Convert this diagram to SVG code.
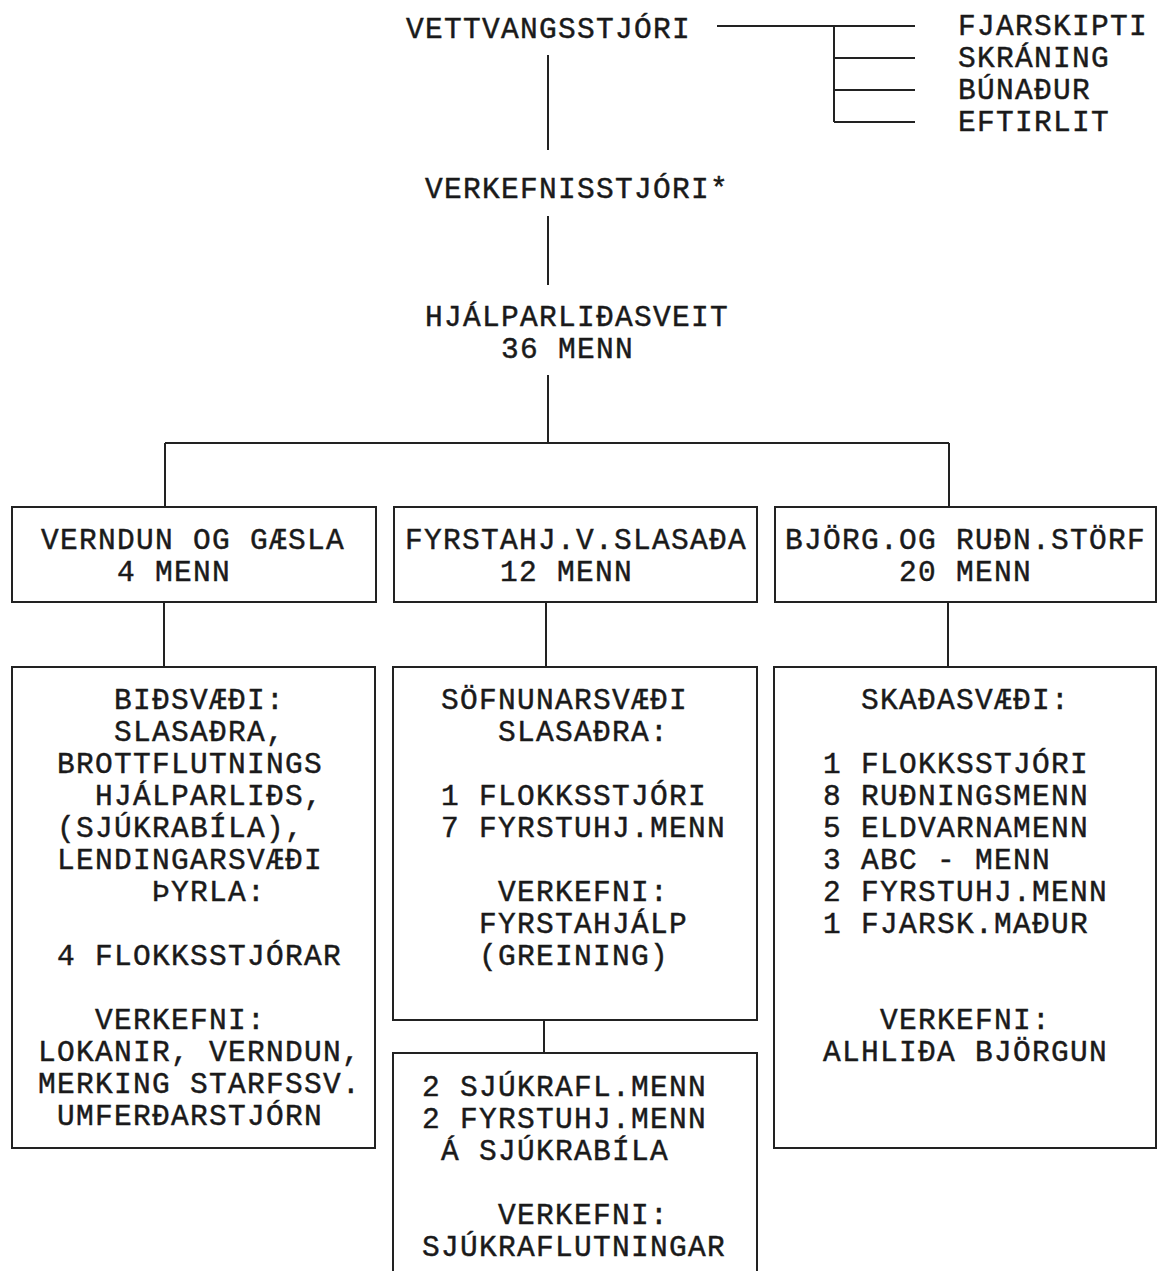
<svg xmlns="http://www.w3.org/2000/svg" width="1157" height="1271" viewBox="0 0 1157 1271">
<style>
text{font-family:"Liberation Mono","DejaVu Sans Mono",monospace;font-size:29.5px;letter-spacing:1.3px;fill:#1a1a1a;stroke:#1a1a1a;stroke-width:0.45px}
.box{fill:none;stroke:#222;stroke-width:2}
.con{fill:none;stroke:#222;stroke-width:2}
</style>
<rect x="0" y="0" width="1157" height="1271" fill="#fff"/>
<g id="connectors" class="con">
<path d="M717 26H915M834 26V122M834 58H915M834 90H915M834 122H915"/>
<path d="M548 55V150M548 216V285M548 375V443M165 443H949M165 443V507M949 443V507"/>
<path d="M164 602V667M546 602V667M948 602V667M544 1020V1053"/>
</g>
<g id="vettvangsstjori"><text x="406" y="38">VETTVANGSSTJÓRI</text></g>
<g id="stodeiningar">
<text x="958" y="35">FJARSKIPTI</text>
<text x="958" y="67">SKRÁNING</text>
<text x="958" y="99">BÚNAÐUR</text>
<text x="958" y="131">EFTIRLIT</text>
</g>
<g id="verkefnisstjori"><text x="425" y="198">VERKEFNISSTJÓRI*</text></g>
<g id="hjalparlidasveit">
<text x="425" y="326">HJÁLPARLIÐASVEIT</text>
<text x="501" y="358">36 MENN</text>
</g>
<g id="verndun">
<rect class="box" x="12" y="507" width="364" height="95"/>
<text x="41" y="549">VERNDUN OG GÆSLA</text>
<text x="117" y="581">4 MENN</text>
</g>
<g id="fyrstahjalp">
<rect class="box" x="394" y="507" width="363" height="95"/>
<text x="405" y="549">FYRSTAHJ.V.SLASAÐA</text>
<text x="500" y="581">12 MENN</text>
</g>
<g id="bjorgun">
<rect class="box" x="775" y="507" width="381" height="95"/>
<text x="785" y="549">BJÖRG.OG RUÐN.STÖRF</text>
<text x="899" y="581">20 MENN</text>
</g>
<g id="bidsvaedi">
<rect class="box" x="12" y="667" width="363" height="481"/>
<text x="114" y="709">BIÐSVÆÐI:</text>
<text x="114" y="741">SLASAÐRA,</text>
<text x="57" y="773">BROTTFLUTNINGS</text>
<text x="95" y="805">HJÁLPARLIÐS,</text>
<text x="57" y="837">(SJÚKRABÍLA),</text>
<text x="57" y="869">LENDINGARSVÆÐI</text>
<text x="152" y="901">ÞYRLA:</text>
<text x="57" y="965">4 FLOKKSSTJÓRAR</text>
<text x="95" y="1029">VERKEFNI:</text>
<text x="38" y="1061">LOKANIR, VERNDUN,</text>
<text x="38" y="1093">MERKING STARFSSV.</text>
<text x="57" y="1125">UMFERÐARSTJÓRN</text>
</g>
<g id="sofnunarsvaedi">
<rect class="box" x="393" y="667" width="364" height="353"/>
<text x="441" y="709">SÖFNUNARSVÆÐI</text>
<text x="498" y="741">SLASAÐRA:</text>
<text x="441" y="805">1 FLOKKSSTJÓRI</text>
<text x="441" y="837">7 FYRSTUHJ.MENN</text>
<text x="498" y="901">VERKEFNI:</text>
<text x="479" y="933">FYRSTAHJÁLP</text>
<text x="479" y="965">(GREINING)</text>
</g>
<g id="sjukraflutningar">
<path class="box" d="M393 1280V1053H757V1280"/>
<text x="422" y="1096">2 SJÚKRAFL.MENN</text>
<text x="422" y="1128">2 FYRSTUHJ.MENN</text>
<text x="441" y="1160">Á SJÚKRABÍLA</text>
<text x="498" y="1224">VERKEFNI:</text>
<text x="422" y="1256">SJÚKRAFLUTNINGAR</text>
</g>
<g id="skadasvaedi">
<rect class="box" x="774" y="667" width="382" height="481"/>
<text x="861" y="709">SKAÐASVÆÐI:</text>
<text x="823" y="773">1 FLOKKSSTJÓRI</text>
<text x="823" y="805">8 RUÐNINGSMENN</text>
<text x="823" y="837">5 ELDVARNAMENN</text>
<text x="823" y="869">3 ABC - MENN</text>
<text x="823" y="901">2 FYRSTUHJ.MENN</text>
<text x="823" y="933">1 FJARSK.MAÐUR</text>
<text x="880" y="1029">VERKEFNI:</text>
<text x="823" y="1061">ALHLIÐA BJÖRGUN</text>
</g>
</svg>
